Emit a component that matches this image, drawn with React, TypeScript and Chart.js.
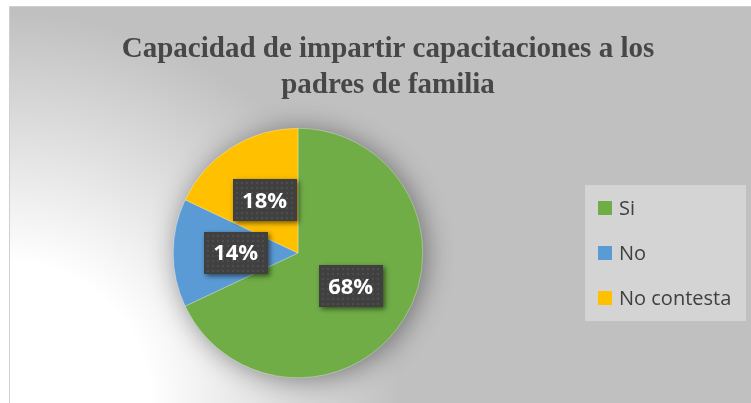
import React, { useEffect, useRef } from "react";
import { Chart, registerables } from "chart.js";

Chart.register(...registerables);

const titleLines = ["Capacidad de impartir capacitaciones a los", "padres de familia"];
const categories = ["Si", "No", "No contesta"];
const percentages = [68, 14, 18];
const colors = ["#70AD47", "#5B9BD5", "#FFC000"];

const W = 741;
const H = 396;

const titlePlugin = {
  id: "customTitle",
  afterDraw(chart: any) {
    const ctx = chart.ctx;
    ctx.save();
    ctx.fillStyle = "#474747";
    ctx.font = 'bold 29px "Liberation Serif", "Times New Roman", serif';
    ctx.textAlign = "center";
    ctx.textBaseline = "alphabetic";
    const cx = 378;
    ctx.fillText(titleLines[0], cx, 50);
    ctx.fillText(titleLines[1], cx, 86);
    ctx.restore();
  },
};

const shadowPlugin = {
  id: "pieShadow",
  beforeDatasetsDraw(chart: any) {
    const meta = chart.getDatasetMeta(0);
    const arc = meta.data[0];
    if (!arc) return;
    const { x, y, outerRadius } = arc.getProps(["x", "y", "outerRadius"], true);
    const ctx = chart.ctx;
    ctx.save();
    ctx.shadowColor = "rgba(0,0,0,0.45)";
    ctx.shadowBlur = 28;
    ctx.shadowOffsetX = 3;
    ctx.shadowOffsetY = 2;
    ctx.fillStyle = "#888";
    ctx.beginPath();
    ctx.arc(x, y, outerRadius - 1, 0, Math.PI * 2);
    ctx.fill();
    ctx.restore();
  },
};

const labelPlugin = {
  id: "boxLabels",
  afterDatasetsDraw(chart: any) {
    const ctx = chart.ctx;
    const meta = chart.getDatasetMeta(0);
    meta.data.forEach((arc: any, i: number) => {
      const p = arc.tooltipPosition(true);
      const bw = 64;
      const bh = 42;
      const bx = Math.round(p.x - bw / 2);
      const by = Math.round(p.y - bh / 2);
      ctx.save();
      ctx.shadowColor = "rgba(0,0,0,0.55)";
      ctx.shadowBlur = 5;
      ctx.shadowOffsetX = 2;
      ctx.shadowOffsetY = 2;
      ctx.fillStyle = "#404040";
      ctx.fillRect(bx, by, bw, bh);
      ctx.restore();
      ctx.save();
      ctx.fillStyle = "rgba(255,255,255,0.07)";
      for (let yy = by + 3; yy < by + bh - 1; yy += 5) {
        for (let xx = bx + 3; xx < bx + bw - 1; xx += 5) {
          ctx.fillRect(xx, yy, 2, 2);
        }
      }
      ctx.fillStyle = "#ffffff";
      ctx.font = 'bold 22px "Open Sans", "Noto Sans", sans-serif';
      ctx.textAlign = "center";
      ctx.textBaseline = "middle";
      ctx.fillText(percentages[i] + "%", p.x, p.y + 1);
      ctx.restore();
    });
  },
};

const legendPlugin = {
  id: "customLegend",
  afterDraw(chart: any) {
    const ctx = chart.ctx;
    ctx.save();
    ctx.fillStyle = "#d4d4d4";
    ctx.fillRect(575, 178, 161, 136);
    ctx.font = '20px "Open Sans", "Noto Sans", sans-serif';
    ctx.textBaseline = "middle";
    ctx.textAlign = "left";
    categories.forEach((c, i) => {
      const cy = 201 + i * 45;
      ctx.fillStyle = colors[i];
      ctx.fillRect(588, cy - 7, 14, 14);
      ctx.fillStyle = "#404040";
      ctx.fillText(c, 609, cy + 1);
    });
    ctx.restore();
  },
};

export default function App() {
  const ref = useRef<HTMLCanvasElement | null>(null);
  useEffect(() => {
    document.body.style.margin = "0";
    document.body.style.overflow = "hidden";
    if (!ref.current) return;
    const chart = new Chart(ref.current, {
      type: "pie",
      data: {
        labels: categories,
        datasets: [
          {
            data: percentages,
            backgroundColor: colors,
            borderColor: "rgba(255,255,255,0.6)",
            borderWidth: 0.5,
          },
        ],
      },
      options: {
        responsive: false,
        animation: false,
        devicePixelRatio: 1,
        layout: { padding: { left: 163, right: 328, top: 121, bottom: 25 } },
        plugins: {
          legend: { display: false },
          title: { display: false },
          tooltip: { enabled: false },
        },
      },
      plugins: [shadowPlugin, labelPlugin, titlePlugin, legendPlugin],
    });
    return () => chart.destroy();
  }, []);
  return (
    <div style={{ position: "relative", width: 751, height: 403, background: "#fff", overflow: "hidden" }}>
      <div
        style={{
          position: "absolute",
          left: 9,
          top: 6,
          width: W,
          height: H,
          borderLeft: "1px solid #cfcfcf",
          borderTop: "1px solid #cfcfcf",
          background:
            "radial-gradient(circle at 0% 100%, #ffffff 0px, #ffffff 140px, #c0c0c0 390px)",
        }}
      >
        <canvas ref={ref} width={W} height={H} style={{ display: "block", width: W, height: H }} />
      </div>
    </div>
  );
}
